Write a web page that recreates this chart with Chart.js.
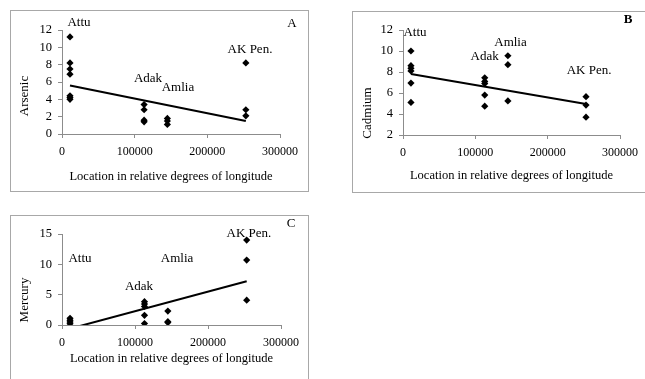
<!DOCTYPE html>
<html>
<head>
<meta charset="utf-8">
<script src="https://cdn.jsdelivr.net/npm/chart.js@4.4.1/dist/chart.umd.min.js"></script>
<style>
  html, body { margin:0; padding:0; background:#fff; overflow:hidden; }
  body { position:relative; width:645px; height:379px; }
  .panel { position:absolute; border:1px solid #a8a8a8; }
  .panel canvas { display:block; }
</style>
</head>
<body>
<div class="panel" style="left:10px;top:10px;width:297px;height:180px;"><canvas id="graficoA" width="297" height="180"></canvas></div>
<div class="panel" style="left:352px;top:11px;width:292px;height:180px;border-right:none;"><canvas id="graficoB" width="292" height="180"></canvas></div>
<div class="panel" style="left:10px;top:215px;width:297px;height:163px;border-bottom:none;"><canvas id="graficoC" width="297" height="163"></canvas></div>

<script>
// sitios y longitud relativa
const sitios = ['Attu', 'Adak', 'Amlia', 'AK Pen.'];
const longitud = [11000, 113000, 145000, 253000];

// valores por sitio (mismo orden que sitios)
const arsenico = [[11.2, 8.2, 7.5, 6.9, 4.4, 4.2, 4.0], [3.4, 2.8, 1.6, 1.4], [1.8, 1.5, 1.1], [8.2, 2.8, 2.1]];
const cadmio = [[10.0, 8.6, 8.35, 8.1, 6.95, 5.1], [7.45, 7.1, 6.9, 5.8, 4.75], [9.55, 8.7, 5.25], [5.65, 4.85, 3.7]];
const mercurio = [[1.1, 0.8, 0.5, 0.2], [3.85, 3.45, 3.05, 1.6, 0.25], [2.3, 0.55, 0.4], [14.0, 10.7, 4.1]];

// lineas de tendencia (extremos)
const tendenciaX = [11000, 253000];
const arsenicoTend = [5.6, 1.5];
const cadmioTend = [7.8, 4.95];
const mercurioTend = [-0.6, 7.2];

// ejes
const ticksX = [0, 100000, 200000, 300000];
const ticksArsenico = [0, 12, 2];
const ticksCadmio = [2, 12, 2];
const ticksMercurio = [0, 15, 5];

const fuente = '"Liberation Serif", "Times New Roman", serif';

function puntos(valores) {
  let lista = [];
  valores.forEach(function(grupo, i) {
    grupo.forEach(function(v) { lista.push({x: longitud[i], y: v}); });
  });
  return lista;
}

function pluginTextos(conf) {
  return {
    id: 'textos',
    afterDraw: function(chart) {
      var ctx = chart.ctx;
      var xs = chart.scales.x, ys = chart.scales.y;
      ctx.save();
      ctx.fillStyle = '#000';
      ctx.textAlign = 'center';
      ctx.textBaseline = 'middle';
      ctx.font = '13px ' + fuente;
      sitios.forEach(function(s, i) {
        var p = conf.etiquetas[i];
        ctx.fillText(s, xs.getPixelForValue(p[0]), ys.getPixelForValue(p[1]));
      });
      // letra del panel
      ctx.font = (conf.negrita ? 'bold ' : '') + '13px ' + fuente;
      ctx.fillText(conf.letra, conf.posLetra[0], conf.posLetra[1]);
      // titulo eje y
      ctx.font = '13px ' + fuente;
      ctx.translate(conf.posTituloY[0], conf.posTituloY[1]);
      ctx.rotate(-Math.PI / 2);
      ctx.fillText(conf.tituloY, 0, 0);
      ctx.restore();
    }
  };
}

function crearGrafico(id, valores, tend, ejeY, conf) {
  var ctx = document.getElementById(id).getContext('2d');
  return new Chart(ctx, {
    type: 'scatter',
    data: {
      datasets: [
        {
          data: puntos(valores),
          pointStyle: 'rectRot',
          pointRadius: 3.6,
          backgroundColor: '#000',
          borderColor: '#000',
          borderWidth: 0
        },
        {
          data: [{x: tendenciaX[0], y: tend[0]}, {x: tendenciaX[1], y: tend[1]}],
          showLine: true,
          pointRadius: 0,
          borderColor: '#000',
          borderWidth: 2
        }
      ]
    },
    options: {
      responsive: false,
      animation: false,
      layout: { padding: conf.padding },
      plugins: { legend: { display: false }, tooltip: { enabled: false } },
      scales: {
        x: {
          type: 'linear',
          min: ticksX[0],
          max: ticksX[ticksX.length - 1],
          afterBuildTicks: function(scale) { scale.ticks = ticksX.map(function(v) { return {value: v}; }); },
          ticks: { color: '#000', font: { family: fuente, size: 12 }, padding: 7, maxRotation: 0, autoSkip: false,
                   callback: function(v) { return String(v); } },
          grid: { drawOnChartArea: false, drawTicks: true, tickLength: 4, color: '#8c8c8c' },
          border: { color: '#8c8c8c' },
          title: { display: true, text: 'Location in relative degrees of longitude', color: '#000',
                   font: { family: fuente, size: 12.5 }, padding: 0 },
          afterFit: function(scale) { scale.height = conf.altoX; }
        },
        y: {
          min: ejeY[0],
          max: ejeY[1],
          ticks: { stepSize: ejeY[2], autoSkip: false, color: '#000', font: { family: fuente, size: 12.5 }, padding: 6 },
          grid: { drawOnChartArea: false, drawTicks: true, tickLength: 4, color: '#8c8c8c' },
          border: { color: '#8c8c8c' },
          afterFit: function(scale) { scale.width = conf.anchoY; }
        }
      }
    },
    plugins: [pluginTextos(conf)]
  });
}

var graficoA = crearGrafico('graficoA', arsenico, arsenicoTend, ticksArsenico, {
  padding: {left: 0, right: 28, top: 19, bottom: 7}, anchoY: 51, altoX: 50,
  etiquetas: [[23400, 12.8], [118300, 6.35], [159600, 5.3], [258700, 9.7]],
  letra: 'A', negrita: false, posLetra: [281, 13], tituloY: 'Arsenic', posTituloY: [14, 85]
});

var graficoB = crearGrafico('graficoB', cadmio, cadmioTend, ticksCadmio, {
  padding: {left: 0, right: 24, top: 18, bottom: 9}, anchoY: 50, altoX: 48,
  etiquetas: [[16500, 11.8], [112800, 9.43], [148600, 10.76], [257300, 8.1]],
  letra: 'B', negrita: true, posLetra: [275, 8], tituloY: 'Cadmium', posTituloY: [15, 101]
});

var graficoC = crearGrafico('graficoC', mercurio, mercurioTend, ticksMercurio, {
  padding: {left: 0, right: 27, top: 18, bottom: 13}, anchoY: 51, altoX: 41,
  etiquetas: [[24700, 10.9], [105500, 6.26], [157600, 10.9], [256000, 15.0]],
  letra: 'C', negrita: false, posLetra: [280, 8], tituloY: 'Mercury', posTituloY: [14, 84]
});
</script>
</body>
</html>
